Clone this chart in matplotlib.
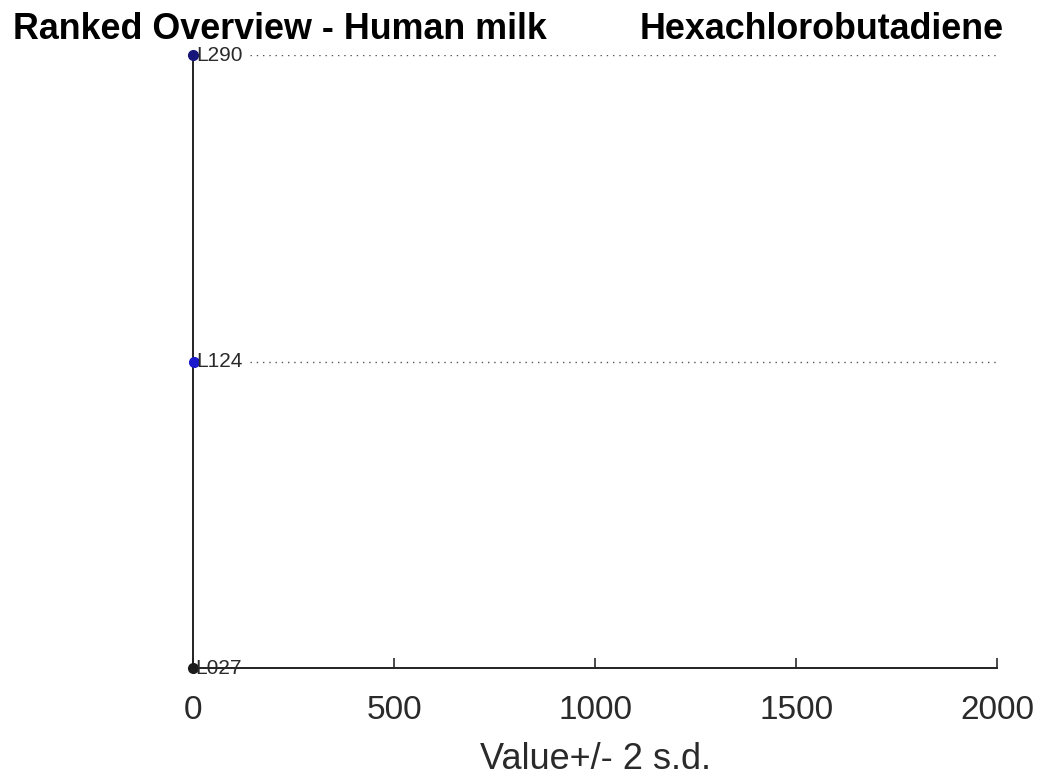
import matplotlib
matplotlib.use("Agg")
import matplotlib.pyplot as plt

plt.rcParams["font.family"] = ["Liberation Sans", "DejaVu Sans"]

# ranked from bottom to top
labs = ["L027", "L124", "L290"]
values = [0.8, 1.5, 1.2]
sd2 = [0.3, 0.4, 0.4]
colors = ["#1c1c1c", "#1a1acc", "#15157a"]
xticks = [0, 500, 1000, 1500, 2000]

fig = plt.figure(figsize=(10.43, 7.76), dpi=100)
ax = fig.add_axes([0.185, 0.139, 0.771, 0.790])

ranks = list(range(1, len(labs) + 1))
for r, v, e, c, lab in zip(ranks, values, sd2, colors, labs):
    ax.errorbar(v, r, xerr=e, fmt="o", color=c, ms=7, capsize=0, zorder=4, clip_on=False)
    ax.text(v + 6, r, lab, fontsize=15, color="#2a2a2a", va="center", ha="left", zorder=5)
    if r != ranks[0]:
        ax.plot([142, 2000], [r, r], linestyle=(0, (1, 3.5)), color="#555555", lw=1.0, zorder=1)

ax.set_xlim(0, 2000)
ax.set_ylim(ranks[0], ranks[-1])
ax.set_xticks(xticks)
ax.set_yticks([])
ax.tick_params(axis="x", direction="in", length=7, width=1.2, pad=19, labelsize=24, colors="#2a2a2a")
for side in ("top", "right"):
    ax.spines[side].set_visible(False)
for side in ("left", "bottom"):
    ax.spines[side].set_linewidth(1.4)
    ax.spines[side].set_color("#222222")
ax.set_xlabel("Value+/- 2 s.d.", fontsize=26, color="#2a2a2a", labelpad=12)

fig.text(0.012, 0.962, "Ranked Overview - Human milk", fontsize=25.8, fontweight="bold", ha="left", va="center")
fig.text(0.962, 0.962, "Hexachlorobutadiene", fontsize=25.8, fontweight="bold", ha="right", va="center")

fig.savefig("out.png", dpi=100)
